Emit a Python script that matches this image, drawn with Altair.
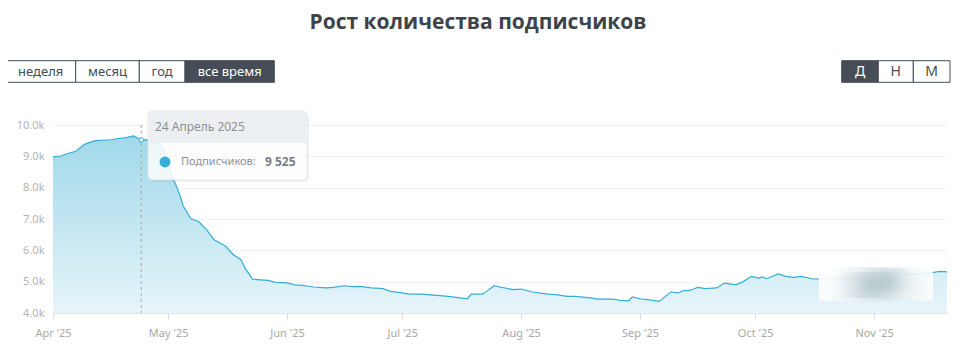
import altair as alt
import pandas as pd

# ---------------- data ----------------
dates = [
    "2025-04-01", "2025-04-03", "2025-04-05", "2025-04-07", "2025-04-09", "2025-04-10",
    "2025-04-12", "2025-04-16", "2025-04-18", "2025-04-20", "2025-04-22", "2025-04-24",
    "2025-04-26", "2025-04-28", "2025-04-29", "2025-04-30", "2025-05-01", "2025-05-02",
    "2025-05-03", "2025-05-04", "2025-05-05", "2025-05-07", "2025-05-09", "2025-05-11",
    "2025-05-13", "2025-05-16", "2025-05-18", "2025-05-20", "2025-05-21", "2025-05-23",
    "2025-05-25", "2025-05-27", "2025-05-29", "2025-06-01", "2025-06-03", "2025-06-05",
    "2025-06-08", "2025-06-11", "2025-06-13", "2025-06-16", "2025-06-18", "2025-06-20",
    "2025-06-23", "2025-06-26", "2025-06-28", "2025-06-30", "2025-07-03", "2025-07-06",
    "2025-07-10", "2025-07-13", "2025-07-15", "2025-07-18", "2025-07-19", "2025-07-22",
    "2025-07-23", "2025-07-25", "2025-07-27", "2025-07-30", "2025-08-01", "2025-08-04",
    "2025-08-08", "2025-08-10", "2025-08-13", "2025-08-15", "2025-08-19", "2025-08-21",
    "2025-08-25", "2025-08-27", "2025-08-29", "2025-08-30", "2025-09-01", "2025-09-03",
    "2025-09-06", "2025-09-09", "2025-09-11", "2025-09-12", "2025-09-14", "2025-09-16",
    "2025-09-18", "2025-09-21", "2025-09-23", "2025-09-26", "2025-09-28", "2025-09-30",
    "2025-10-02", "2025-10-03", "2025-10-04", "2025-10-07", "2025-10-09", "2025-10-11",
    "2025-10-13", "2025-10-16", "2025-10-17", "2025-10-22", "2025-10-28", "2025-11-03",
    "2025-11-09", "2025-11-16", "2025-11-18", "2025-11-20",
]
subscribers = [
    8980, 9010, 9100, 9160, 9370, 9420,
    9500, 9530, 9570, 9600, 9650, 9525,
    9530, 9480, 9400, 9150, 8750, 8350,
    8100, 7780, 7400, 7000, 6920, 6660,
    6340, 6130, 5860, 5700, 5440, 5080,
    5060, 5040, 4980, 4960, 4900, 4880,
    4830, 4800, 4815, 4870, 4840, 4850,
    4800, 4775, 4690, 4660, 4605, 4605,
    4560, 4530, 4500, 4455, 4600, 4605,
    4690, 4870, 4815, 4745, 4765, 4670,
    4605, 4585, 4530, 4530, 4480, 4445,
    4445, 4400, 4390, 4510, 4455, 4425,
    4370, 4670, 4640, 4710, 4720, 4815,
    4775, 4800, 4955, 4900, 5010, 5170,
    5115, 5150, 5095, 5245, 5170, 5135,
    5170, 5085, 5085, 5120, 5150, 5180,
    5220, 5280, 5330, 5310,
]
y_ticks = [4000, 5000, 6000, 7000, 8000, 9000, 10000]
month_starts = [(2025, m) for m in range(4, 12)]

title_text = "Рост количества подписчиков"
period_buttons = ["неделя", "месяц", "год", "все время"]
period_active = "все время"
scale_buttons = ["Д", "Н", "М"]
scale_active = "Д"
tooltip_date = "2025-04-24"
tooltip_header = "24 Апрель 2025"
tooltip_series = "Подписчиков:"

df = pd.DataFrame({"date": dates, "value": subscribers})
hl = df[df["date"] == tooltip_date]
hl_value = int(hl["value"].iloc[0])
hl_text = f"{hl_value:,}".replace(",", " ")

W, H = 894, 188
LINE = "#35acd6"
DARK = "#464d57"
FONT = "Noto Sans"

x_scale = alt.Scale(
    type="utc",
    domain=[alt.DateTime(year=2025, month=4, date=1, utc=True),
            alt.DateTime(year=2025, month=11, date=20, utc=True)],
)
y_scale = alt.Scale(domain=[4000, 10000], zero=False, nice=False)

x_axis = alt.Axis(
    values=[alt.DateTime(year=y, month=m, date=1, utc=True) for y, m in month_starts],
    labelExpr="utcFormat(datum.value, \"%b '%y\")",
    grid=False, domainColor="#e4e4e4", tickColor="#dcdcdc", tickSize=6,
    labelColor="#a8a8a8", labelFontSize=11, labelPadding=8, labelFont=FONT,
    labelFlush=False, labelOverlap=False, title=None,
)
y_axis = alt.Axis(
    values=y_ticks, tickCount=len(y_ticks),
    labelExpr="format(datum.value / 1000, '.1f') + 'k'",
    domain=False, ticks=False, gridColor="#f2f2f2", labelColor="#b3b3b3",
    labelFontSize=11, labelPadding=9, labelFont=FONT, labelOverlap=False,
    labelFlush=False, title=None,
)

base = alt.Chart(df)
X = alt.X("date:T", scale=x_scale, axis=x_axis)
Y = alt.Y("value:Q", scale=y_scale, axis=y_axis)

area = base.mark_area(
    fill=alt.Gradient(
        gradient="linear",
        stops=[alt.GradientStop(color="#a0d8ea", offset=0),
               alt.GradientStop(color="#e6f5fa", offset=1)],
        x1=0, x2=0, y1=0, y2=1,
    ),
    interpolate="linear",
).encode(x=X, y=Y, y2=alt.datum(4000))

line = base.mark_line(color=LINE, strokeWidth=1.2).encode(x=X, y=Y)

hl_chart = alt.Chart(hl)
rule = hl_chart.mark_rule(color="#a9a9a9", strokeDash=[3, 3], strokeWidth=1).encode(
    x=X, y=alt.datum(10000), y2=alt.datum(4000))
hl_point = hl_chart.mark_point(filled=True, color="white", stroke=LINE, strokeWidth=1,
                               size=18, opacity=1).encode(x=X, y=Y)

one = pd.DataFrame({"k": [0]})


def box(x0, x1, y0, y1, **kw):
    return alt.Chart(one).mark_rect(**kw).encode(
        x=alt.value(x0), x2=alt.value(x1), y=alt.value(y0), y2=alt.value(y1))


def label(x, y, text, **kw):
    kw.setdefault("font", FONT)
    kw.setdefault("baseline", "middle")
    return alt.Chart(one).mark_text(text=text, **kw).encode(
        x=alt.value(x), y=alt.value(y))


def dot(x, y, size, **kw):
    return alt.Chart(one).mark_circle(size=size, **kw).encode(
        x=alt.value(x), y=alt.value(y))


def radial(c_in, c_out):
    return alt.Gradient(
        gradient="radial",
        stops=[alt.GradientStop(color=c_in, offset=0),
               alt.GradientStop(color=c_out, offset=1)],
        x1=0.5, y1=0.5, r1=0, x2=0.5, y2=0.5, r2=0.5,
    )


layers = [area, line, rule]

# censored (blurred) region
layers.append(box(766, 880, 137, 176, fill=alt.Gradient(
    gradient="linear",
    stops=[alt.GradientStop(color="rgba(255,255,255,0.55)", offset=0),
           alt.GradientStop(color="rgba(255,255,255,0.93)", offset=0.35),
           alt.GradientStop(color="rgba(250,252,253,0.9)", offset=1)],
    x1=0, x2=0, y1=0, y2=1)))
layers.append(box(772, 882, 142, 176, fill=radial("rgba(150,175,184,0.45)",
                                                   "rgba(200,220,226,0)")))
layers.append(box(780, 852, 147, 173, fill=radial("rgba(130,158,168,0.35)",
                                                   "rgba(180,200,208,0)")))
layers.append(box(812, 862, 144, 167, fill=radial("rgba(130,158,168,0.28)",
                                                   "rgba(180,200,208,0)")))

layers.append(hl_point)

# tooltip
layers.append(box(96, 256, -12, 57, fill="#000000", opacity=0.05, cornerRadius=5))
layers.append(box(95, 254, -14, 55, fill="white", opacity=0.85, cornerRadius=4,
                  stroke="#e2e5e8", strokeWidth=1))
layers.append(box(95.5, 253.5, -13.5, 17, fill="#eceff2", cornerRadiusTopLeft=4,
                  cornerRadiusTopRight=4))
layers.append(box(95.5, 253.5, 17, 17.6, fill="#dde1e5"))
layers.append(label(102, 2, tooltip_header, fontSize=12, color="#8c9096", align="left"))
layers.append(dot(112, 37, 120, color="#36afd8", opacity=1))
layers.append(label(128, 37, tooltip_series, fontSize=11, color="#8c9096", align="left"))
layers.append(label(212, 37, hl_text, fontSize=12, color="#7a7e84", align="left",
                    fontWeight="bold"))

# title
layers.append(label(425, -102, title_text, fontSize=21, fontWeight="bold",
                    color="#3d434d", align="center", font="Open Sans"))

# period buttons
period_edges = [-47.3, 22.7, 86.3, 132, 221.3]
for i, name in enumerate(period_buttons):
    active = name == period_active
    layers.append(box(period_edges[i], period_edges[i + 1], -64.3, -42.7,
                      fill=DARK if active else "white", stroke=DARK, strokeWidth=1))
    layers.append(label((period_edges[i] + period_edges[i + 1]) / 2, -53.5, name,
                        fontSize=13, color="white" if active else "#454c56",
                        align="center"))

scale_edges = [788.7, 825.3, 860.3, 897]
for i, name in enumerate(scale_buttons):
    active = name == scale_active
    layers.append(box(scale_edges[i], scale_edges[i + 1], -64.3, -42.7,
                      fill=DARK if active else "white", stroke=DARK, strokeWidth=1))
    layers.append(label((scale_edges[i] + scale_edges[i + 1]) / 2, -53.5, name,
                        fontSize=14, color="white" if active else "#454c56",
                        align="center"))

chart = alt.layer(*layers).properties(
    width=W, height=H,
    autosize=alt.AutoSizeParams(type="none"),
    padding={"left": 45, "top": 117, "right": 6, "bottom": 40},
    background="white",
).configure_view(stroke=None)

chart.save("out.html", embed_options={"renderer": "svg", "actions": False})
